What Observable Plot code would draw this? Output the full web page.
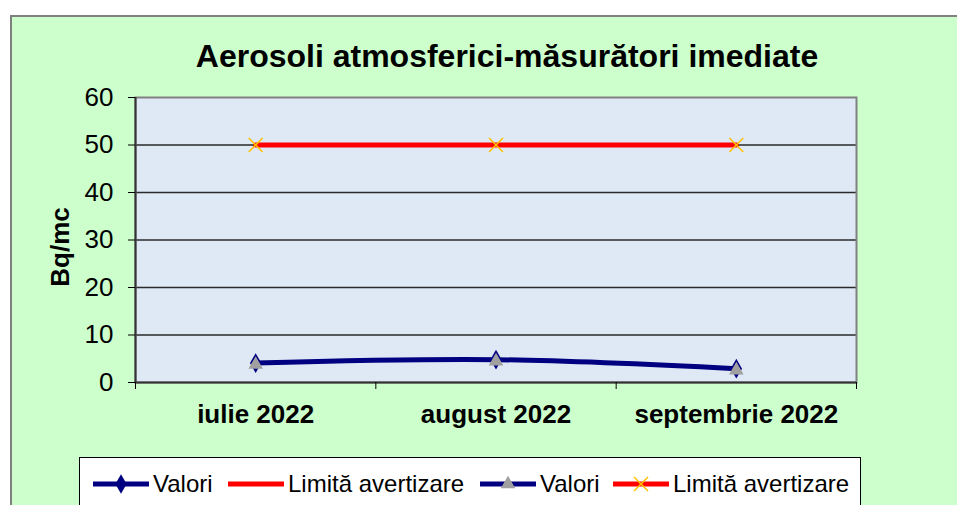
<!DOCTYPE html>
<html>
<head>
<meta charset="utf-8">
<script src="https://cdn.jsdelivr.net/npm/d3@7"></script>
<script src="https://cdn.jsdelivr.net/npm/@observablehq/plot@0.6"></script>
<style>
  html, body { margin: 0; padding: 0; background: #ffffff; overflow: hidden; }
  #wrap { position: relative; width: 957px; height: 505px; overflow: hidden; font-family: Arial, "Liberation Sans", sans-serif; }
  #frame { position: absolute; left: 10px; top: 15px; width: 1000px; height: 600px; background: #CCFFCC; border: 2px solid #808080; box-sizing: border-box; }
  #title { position: absolute; left: 507px; top: 40px; transform: translateX(-50%); white-space: nowrap; font-weight: bold; font-size: 32px; line-height: 32px; color: #000; }
  #chart { position: absolute; left: 0; top: 0; }
  #ylab { position: absolute; left: 0; top: 0; }
  #legend { position: absolute; left: 79px; top: 457px; width: 782px; height: 70px; background: #fff; border: 1px solid #000; box-sizing: border-box; }
  .item { position: absolute; top: 11px; height: 30px; display: flex; align-items: center; }
  .item span { font-size: 24px; line-height: 30px; margin-left: 4px; color: #000; white-space: nowrap; position: relative; top: 0px; }
</style>
</head>
<body>
<div id="wrap">
  <div id="frame"></div>
  <div id="title"></div>
  <div id="chart"></div>
  <svg id="ylab" width="957" height="505"></svg>
  <div id="legend"></div>
</div>
<script>
// ---- data ----
const titleText = "Aerosoli atmosferici-măsurători imediate";
const yLabel = "Bq/mc";
const months = ["iulie 2022", "august 2022", "septembrie 2022"];
const valori = [4.1, 4.8, 2.9];
const limita = [50, 50, 50];
const yTicks = [0, 10, 20, 30, 40, 50, 60];
const legendItems = [
  { label: "Valori", line: "#000080", marker: "diamond", markerColor: "#000080" },
  { label: "Limită avertizare", line: "#FF0000", marker: null, markerColor: null },
  { label: "Valori", line: "#000080", marker: "triangle", markerColor: "#A0A0A0" },
  { label: "Limită avertizare", line: "#FF0000", marker: "times", markerColor: "#FFC000" }
];

const data = months.map((m, i) => ({ pos: i + 0.5, month: m, valori: valori[i], limita: limita[i] }));

document.getElementById("title").textContent = titleText;

const chart = Plot.plot({
  width: 957,
  height: 445,
  marginLeft: 135,
  marginRight: 101,
  marginTop: 97,
  marginBottom: 63,
  style: { background: "transparent", fontFamily: "Arial, 'Liberation Sans', sans-serif", color: "#000", overflow: "visible" },
  x: { domain: [0, months.length] },
  y: { domain: [yTicks[0], yTicks[yTicks.length - 1]] },
  marks: [
    Plot.frame({ fill: "#DFE9F6" }),
    Plot.gridY(yTicks.slice(1, -1), { stroke: "#2a2a2a", strokeOpacity: 1, strokeWidth: 1.4 }),
    Plot.frame({ stroke: "#808080", strokeWidth: 2 }),
    Plot.ruleX([0], { stroke: "#333", strokeWidth: 2 }),
    Plot.ruleY([0], { stroke: "#333", strokeWidth: 2 }),
    Plot.axisY({ ticks: yTicks, tickSize: 7, tickPadding: 15, label: null, fontSize: 26, tickFormat: d => String(d) }),
    Plot.axisX({ ticks: months.map((_, i) => i + 0.5), tickSize: 0, tickPadding: 22, label: null,
      tickFormat: d => months[Math.floor(d)], fontSize: 26, fontWeight: "bold" }),
    Plot.axisX({ ticks: months.map((_, i) => i).concat([months.length]), tickSize: 7, label: null, tickFormat: () => "" }),
    Plot.line(data, { x: "pos", y: "limita", stroke: "#FF0000", strokeWidth: 5 }),
    Plot.dot(data, { x: "pos", y: "limita", symbol: "times", r: 6.4, stroke: "#FFC000", strokeWidth: 1.5 }),
    Plot.line(data, { x: "pos", y: "valori", stroke: "#000080", strokeWidth: 5, curve: "catmull-rom" }),
    Plot.dot(data, { x: "pos", y: "valori", symbol: "diamond", r: 6, fill: "#000080", stroke: "none" }),
    Plot.dot(data, { x: "pos", y: "valori", symbol: "triangle", r: 5.4, fill: "#A0A0A0", stroke: "none", dy: 1.5 })
  ]
});
document.getElementById("chart").appendChild(chart);

// y label
const ylab = d3.select("#ylab");
ylab.append("text")
  .attr("transform", "translate(69,247) rotate(-90)")
  .attr("text-anchor", "middle")
  .attr("font-family", "Arial, 'Liberation Sans', sans-serif")
  .attr("font-weight", "bold")
  .attr("font-size", 26)
  .text(yLabel);

// legend
const lefts = [13, 148, 400, 533];
const legend = d3.select("#legend");
legendItems.forEach((it, i) => {
  const div = legend.append("div").attr("class", "item").style("left", lefts[i] + "px");
  const svg = div.append("svg").attr("width", 56).attr("height", 30);
  svg.append("line").attr("x1", 0).attr("x2", 56).attr("y1", 15).attr("y2", 15)
    .attr("stroke", it.line).attr("stroke-width", 5).attr("stroke-linecap", "round");
  if (it.marker) {
    const sym = { diamond: d3.symbolDiamond, triangle: d3.symbolTriangle, times: d3.symbolTimes }[it.marker];
    const size = { diamond: 110, triangle: 90, times: 130 }[it.marker];
    const p = svg.append("path").attr("d", d3.symbol(sym, size)()).attr("transform", "translate(28,15)");
    if (it.marker === "times") p.attr("fill", "none").attr("stroke", it.markerColor).attr("stroke-width", 1.5);
    else p.attr("fill", it.markerColor);
  }
  div.append("span").text(it.label);
});
</script>
</body>
</html>
